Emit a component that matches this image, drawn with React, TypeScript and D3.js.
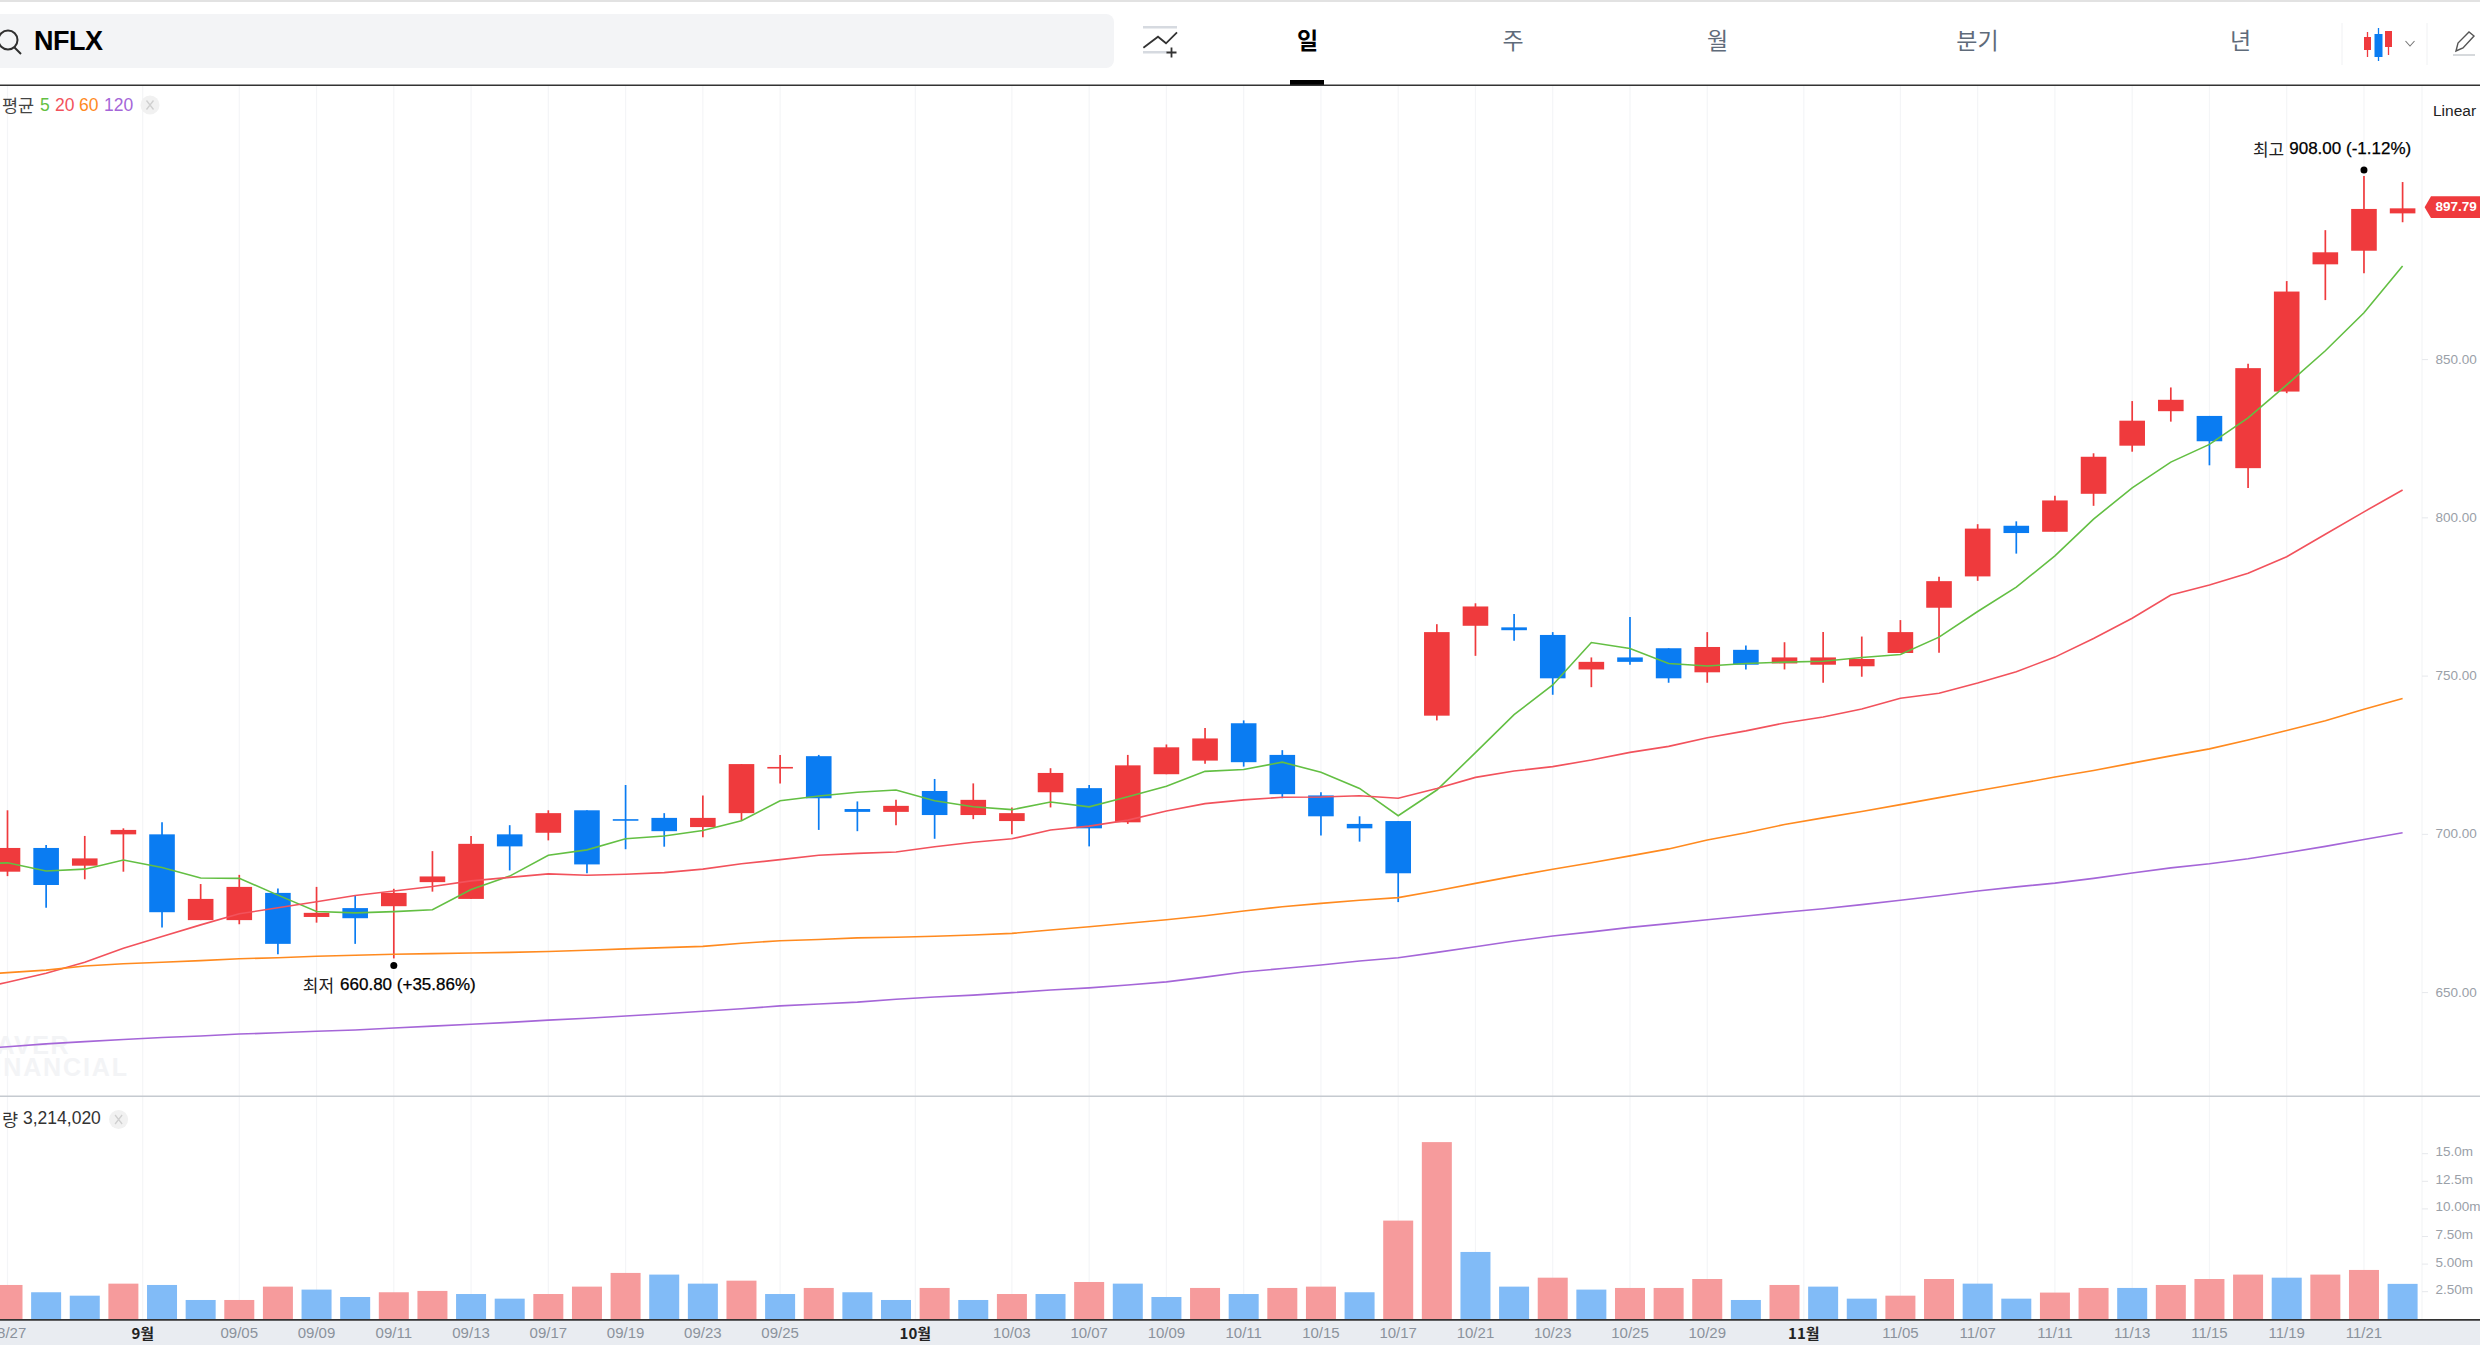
import React from 'react';
import * as d3 from 'd3';

// Daily candles, 08/27 .. 11/22
const opens = [688.2,695.7,690.1,700.0,700.0,672.9,672.9,681.5,673.9,676.7,677.3,684.9,679.6,700.0,700.5,707.6,704.8,705.2,702.3,706.7,720.9,724.7,708.0,707.1,713.7,706.1,704.2,713.3,714.6,703.8,719.0,723.3,735.1,725.1,712.3,703.3,704.2,737.5,765.9,765.4,763.0,752.1,755.9,758.8,751.2,758.3,754.0,753.6,753.1,757.3,771.6,781.5,797.5,795.6,807.6,822.8,833.7,832.2,815.7,839.9,880.1,884.4,896.2];
const highs = [707.6,696.6,699.5,701.9,703.8,684.3,687.2,682.9,683.4,680.6,682.8,694.7,699.5,702.9,707.6,707.6,715.6,706.7,712.3,722.2,725.1,725.1,710.4,710.9,717.5,716.1,708.5,720.9,715.6,725.1,728.4,733.6,736.0,726.6,713.3,705.7,704.2,766.4,773.0,769.6,763.9,755.9,768.7,758.8,763.9,759.7,760.7,763.9,762.5,767.7,781.4,798.0,798.9,807.0,820.4,836.9,841.2,832.2,848.7,874.8,890.9,908.0,906.1];
const lows = [686.8,676.8,685.8,688.2,670.6,672.9,671.6,662.1,672.1,665.4,660.8,681.9,679.6,688.6,698.1,687.7,695.3,696.1,699.1,704.3,716.1,701.4,701.0,702.9,698.6,704.8,700.0,708.5,696.2,703.3,719.0,722.3,721.4,711.4,699.6,697.7,678.6,736.0,756.4,761.2,744.1,746.5,753.6,747.9,747.9,752.1,752.1,747.9,749.8,757.3,757.4,780.1,788.7,795.6,803.8,820.9,830.4,816.6,809.4,839.4,868.8,877.3,893.4];
const closes = [695.7,684.0,692.4,701.4,675.4,679.6,683.4,665.4,675.2,673.5,681.5,686.7,697.0,696.2,706.7,690.5,704.3,701.0,705.2,722.2,721.3,711.4,707.1,709.0,706.1,710.9,706.7,719.4,701.9,721.8,727.5,730.3,722.8,712.7,705.7,701.9,687.7,763.9,772.0,764.5,749.3,754.5,754.5,749.3,759.2,753.6,755.9,755.9,755.4,763.9,780.0,796.6,795.2,805.5,819.3,830.7,837.3,824.2,847.3,871.5,883.9,897.6,897.79];

// Moving averages, first value is the session just off the left edge
const ma5 = [690.5,691.0,688.4,689.0,691.9,689.5,686.2,686.1,680.8,675.6,675.2,675.6,676.2,682.6,686.8,693.4,695.1,698.6,699.5,701.2,704.3,710.6,712.1,713.3,714.0,710.6,708.7,707.8,710.2,708.7,711.9,715.2,719.9,720.5,722.8,719.6,714.5,705.9,714.0,725.8,737.8,747.2,760.6,758.7,754.0,753.2,754.0,754.4,754.7,755.9,756.8,762.3,770.4,778.1,788.0,799.6,809.5,817.6,823.2,831.6,842.0,852.8,864.8,879.6];
const ma20 = [650.4,653.3,656.1,659.6,664.0,667.7,671.4,674.9,676.8,678.7,680.7,682.1,683.5,685.3,686.4,687.5,687.1,687.4,687.9,689.0,690.7,692.0,693.4,694.0,694.4,696.1,697.5,698.6,701.4,702.6,704.5,707.4,709.7,710.9,711.7,711.8,712.2,711.4,714.5,718.0,720.0,721.4,723.5,725.9,727.8,730.5,732.7,735.2,737.1,739.6,743.0,744.6,747.8,751.4,756.0,761.9,768.3,775.6,778.8,782.5,787.7,794.8,801.9,808.8];
const ma60 = [655.6,656.3,657.1,658.4,659.1,659.6,660.1,660.7,661.0,661.5,661.8,662.1,662.3,662.5,662.7,663.0,663.4,663.8,664.2,664.6,665.6,666.4,666.8,667.3,667.5,667.8,668.2,668.7,669.8,670.8,671.9,673.0,674.3,675.8,677.1,678.2,679.2,680.0,682.2,684.5,686.8,689.0,691.0,693.2,695.4,698.2,700.5,703.1,705.2,707.2,709.4,711.6,713.8,715.9,718.1,720.2,722.5,724.8,727.0,729.8,732.8,735.9,739.5,742.9];
const ma120 = [632.1,632.9,633.8,634.5,635.2,635.8,636.3,636.9,637.3,637.8,638.2,638.8,639.4,640.0,640.6,641.3,641.9,642.6,643.3,644.1,644.9,645.8,646.4,647.0,647.9,648.6,649.2,650.0,650.8,651.5,652.4,653.4,654.9,656.5,657.6,658.7,660.0,661.0,662.7,664.5,666.3,667.9,669.2,670.6,671.8,673.0,674.2,675.4,676.5,677.8,679.2,680.6,682.1,683.4,684.6,686.1,687.8,689.4,690.7,692.3,694.2,696.2,698.4,700.5];

// Volume in millions, with its up (1) / down (0) flag
const volumes = [3.11,2.45,2.14,3.23,3.11,1.75,1.75,2.96,2.69,2.02,2.45,2.57,2.29,1.87,2.29,2.96,4.2,4.05,3.23,3.5,2.29,2.84,2.45,1.75,2.84,1.75,2.29,2.29,3.38,3.23,2.02,2.84,2.29,2.84,2.96,2.45,8.94,16.05,6.1,2.96,3.77,2.69,2.84,2.84,3.65,1.75,3.11,2.96,1.87,2.14,3.65,3.23,1.87,2.42,2.84,2.84,3.11,3.65,4.05,3.77,4.05,4.47,3.21];
const volumeUp = [1,0,0,1,0,0,1,1,0,0,1,1,0,0,1,1,1,0,0,1,0,1,0,0,1,0,1,0,1,0,0,1,0,1,1,0,1,1,0,0,1,0,1,1,1,0,1,0,0,1,1,0,0,1,1,0,1,1,1,0,1,1,0];

const timeTicks = [0,3.5,6,8,10,12,14,16,18,20,23.5,26,28,30,32,34,36,38,40,42,44,46.5,49,51,53,55,57,59,61];
const timeLabels = ['08/27','9월','09/05','09/09','09/11','09/13','09/17','09/19','09/23','09/25','10월','10/03','10/07','10/09','10/11','10/15','10/17','10/21','10/23','10/25','10/29','11월','11/05','11/07','11/11','11/13','11/15','11/19','11/21'];
const priceTicks = [650,700,750,800,850];
const volumeTicks = [2.5,5,7.5,10,12.5,15];
const volumeTickLabels = ['2.50m','5.00m','7.50m','10.00m','12.5m','15.0m'];
const tabs = ['일','주','월','분기','년'];
const tabCenters = [1307.5,1513,1717.5,1977.5,2240.5];

const RED = '#ef3a3d';
const BLUE = '#0a7cf2';
const MA_COLORS = ['#63bf43','#f2525c','#ff8a1f','#a566d8'];
const FONT = '"Liberation Sans","Noto Sans CJK KR",sans-serif';
const KR = '"Noto Sans CJK KR",sans-serif';

const x = d3.scaleLinear().domain([0, 62]).range([7.5, 2402.6]);
const yPrice = d3.scaleLinear().domain([650, 850]).range([992.6, 359.6]);
const yVolume = d3.scaleLinear().domain([0, 15]).range([1319.3, 1153.7]);

const maLine = d3.line<number>()
  .x((_, i) => x(i - 1))
  .y(d => yPrice(d));

const CloseChip = ({ cx, cy }: { cx: number; cy: number }) => (
  <g>
    <circle cx={cx} cy={cy} r={9.5} fill="#f1f1f1" />
    <path d={`M${cx - 3.5},${cy - 4.5}L${cx + 3.5},${cy + 4.5}M${cx + 3.5},${cy - 4.5}L${cx - 3.5},${cy + 4.5}`} stroke="#cfcfcf" strokeWidth={1.3} />
  </g>
);

export default function App() {
  const lastY = yPrice(closes[closes.length - 1]) - 1.2;

  return (
    <svg width={2480} height={1345} viewBox="0 0 2480 1345"
      style={{ position: 'fixed', left: 0, top: 0, background: '#fff', fontFamily: FONT }}>
      {/* top bar */}
      <rect x={0} y={0} width={2480} height={2} fill="#e2e2e2" />
      <rect x={-20} y={14} width={1134} height={54} rx={8} fill="#f3f4f6" />
      <circle cx={8} cy={40} r={9.5} fill="none" stroke="#2f2f2f" strokeWidth={2} />
      <line x1={14} y1={47} x2={21} y2={54} stroke="#2f2f2f" strokeWidth={2} />
      <text x={34} y={50} fontSize={27} fontWeight={700} letterSpacing={-0.5} fill="#000">NFLX</text>

      {/* indicator button */}
      <rect x={1143} y={26} width={34} height={2.5} fill="#d6dae0" />
      <rect x={1143} y={51} width={24} height={2.5} fill="#d6dae0" />
      <path d="M1143.4,47.7L1158,36.7L1166,43.3L1177,32.3" fill="none" stroke="#333" strokeWidth={1.8} />
      <path d="M1171.5,47.5V57.5M1166.5,52.5H1176.5" stroke="#333" strokeWidth={1.8} />

      {tabs.map((t, i) => (
        <text key={t} x={tabCenters[i]} y={38.5} textAnchor="middle" dominantBaseline="central"
          fontFamily={KR} fontSize={23} fontWeight={i === 0 ? 700 : 400} fill={i === 0 ? '#000' : '#5f6b7a'}>{t}</text>
      ))}
      <rect x={1290} y={80} width={34} height={5} fill="#000" />

      {/* chart type and drawing buttons */}
      <line x1={2342} y1={23} x2={2342} y2={65} stroke="#f0f1f3" strokeWidth={1} />
      <line x1={2427} y1={23} x2={2427} y2={65} stroke="#f0f1f3" strokeWidth={1} />
      <line x1={2367.5} y1={32} x2={2367.5} y2={57} stroke={RED} strokeWidth={1.3} />
      <rect x={2364} y={37} width={7} height={13} fill={RED} />
      <line x1={2378.5} y1={28} x2={2378.5} y2={61} stroke={BLUE} strokeWidth={1.3} />
      <rect x={2374.5} y={34} width={8} height={23} fill={BLUE} />
      <line x1={2388.5} y1={31} x2={2388.5} y2={55} stroke={RED} strokeWidth={1.3} />
      <rect x={2385} y={31} width={7} height={16} fill={RED} />
      <path d="M2405.5,41L2410,46L2414.5,41" fill="none" stroke="#777" strokeWidth={1.1} />
      <path d="M2456,51L2458,43L2469,32L2474,36L2463,48Z" fill="none" stroke="#555" strokeWidth={1.4} />
      <line x1={2453} y1={55} x2={2475} y2={55} stroke="#c9ccd1" strokeWidth={1.5} />

      {/* grid */}
      {timeTicks.map(t => (
        <line key={t} x1={x(t)} x2={x(t)} y1={86} y2={1319} stroke="#f4f5f7" strokeWidth={1.2} />
      ))}
      <line x1={2422} x2={2422} y1={86} y2={1319} stroke="#f4f5f7" strokeWidth={1.2} />

      {/* watermark */}
      <text x={70} y={1054} textAnchor="end" fontSize={25} fontWeight={700} letterSpacing={1.5} fill="#f3f4f6">NAVER</text>
      <text x={129} y={1076} textAnchor="end" fontSize={25} fontWeight={700} letterSpacing={1.9} fill="#f3f4f6">FINANCIAL</text>

      {/* candles */}
      {closes.map((c, i) => {
        const o = opens[i];
        const color = c >= o ? RED : BLUE;
        const top = yPrice(Math.max(o, c));
        const bottom = yPrice(Math.min(o, c));
        return (
          <g key={i}>
            <line x1={x(i)} x2={x(i)} y1={yPrice(highs[i])} y2={yPrice(lows[i])} stroke={color} strokeWidth={1.7} />
            <rect x={x(i) - 12.8} y={top} width={25.6} height={Math.max(bottom - top, 1.6)} fill={color} />
          </g>
        );
      })}

      {/* moving averages */}
      {[ma5, ma20, ma60, ma120].map((series, k) => (
        <path key={k} d={maLine(series) ?? ''} fill="none" stroke={MA_COLORS[k]} strokeWidth={1.6} />
      ))}

      {/* high and low markers */}
      <circle cx={x(61)} cy={yPrice(908) - 6} r={3.5} fill="#000" />
      <text x={x(61) - 111} y={147.5} dominantBaseline="central" fontSize={17} fill="#222">
        <tspan fontFamily={KR}>최고</tspan>
        <tspan dx={5} fontWeight={500} fill="#000" stroke="#000" strokeWidth={0.25}>908.00 (-1.12%)</tspan>
      </text>
      <circle cx={x(10)} cy={yPrice(660.8) + 7} r={3.5} fill="#000" />
      <text x={x(10) - 91} y={983.5} dominantBaseline="central" fontSize={17} fill="#222">
        <tspan fontFamily={KR}>최저</tspan>
        <tspan dx={6} fontWeight={500} fill="#000" stroke="#000" strokeWidth={0.25}>660.80 (+35.86%)</tspan>
      </text>

      {/* legends */}
      <text x={2} y={104.5} dominantBaseline="central" fontSize={17.5} fill="#444" fontFamily={KR}>평균</text>
      {['5','20','60','120'].map((label, k) => (
        <text key={label} x={[40,55,79,104][k]} y={104.5} dominantBaseline="central" fontSize={17.5} fill={MA_COLORS[k]}>{label}</text>
      ))}
      <CloseChip cx={150} cy={105} />
      <text x={2} y={1118} dominantBaseline="central" fontSize={17.5} fill="#333" fontFamily={KR}>량</text>
      <text x={23} y={1118} dominantBaseline="central" fontSize={17.5} fill="#333">3,214,020</text>
      <CloseChip cx={118.6} cy={1119.5} />

      {/* price axis */}
      <text x={2433} y={110.5} dominantBaseline="central" fontSize={15.5} fill="#222">Linear</text>
      {priceTicks.map(p => (
        <g key={p}>
          <line x1={2422} x2={2428} y1={yPrice(p)} y2={yPrice(p)} stroke="#e6e8ec" />
          <text x={2435.5} y={yPrice(p) - 0.5} dominantBaseline="central" fontSize={13.5} fill="#9aa0a8">{p.toFixed(2)}</text>
        </g>
      ))}
      <polygon points={`2424.6,${lastY} 2431,${lastY - 10.8} 2480,${lastY - 10.8} 2480,${lastY + 10.8} 2431,${lastY + 10.8}`} fill={RED} />
      <text x={2435.5} y={lastY - 1} dominantBaseline="central" fontSize={13.5} fontWeight={700} fill="#fff">897.79</text>

      {/* volume panel */}
      <line x1={0} x2={2480} y1={1096.3} y2={1096.3} stroke="#c5cad0" strokeWidth={1.5} />
      {volumes.map((v, i) => (
        <rect key={i} x={x(i) - 15} y={yVolume(v)} width={30} height={yVolume(0) - yVolume(v)}
          fill={volumeUp[i] ? '#f69b9c' : '#81bbf7'} />
      ))}
      {volumeTicks.map((v, k) => (
        <g key={v}>
          <line x1={2422} x2={2428} y1={yVolume(v)} y2={yVolume(v)} stroke="#e6e8ec" />
          <text x={2435.5} y={yVolume(v) - 2} dominantBaseline="central" fontSize={13.5} fill="#9aa0a8">{volumeTickLabels[k]}</text>
        </g>
      ))}

      {/* time axis */}
      <rect x={0} y={1320} width={2480} height={25} fill="#e9ecf1" />
      <line x1={0} x2={2480} y1={1319.8} y2={1319.8} stroke="#333" strokeWidth={1.8} />
      {timeTicks.map((t, k) => {
        const isMonth = timeLabels[k].includes('월');
        return (
          <text key={t} x={x(t)} y={1332.5} textAnchor="middle" dominantBaseline="central" fontSize={15}
            fontFamily={isMonth ? KR : FONT} fontWeight={isMonth ? 700 : 400} fill={isMonth ? '#222' : '#8b929c'}>
            {timeLabels[k]}
          </text>
        );
      })}
      <path d="M0,85.3H2480" stroke="#333" strokeWidth={1.6} />
    </svg>
  );
}
